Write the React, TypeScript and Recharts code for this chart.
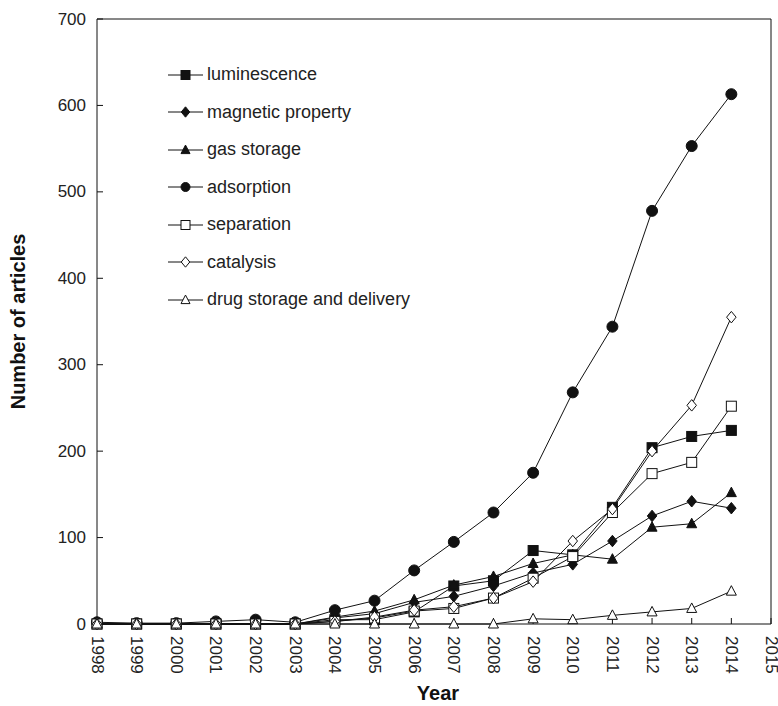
import { LineChart, Line, XAxis, YAxis, ReferenceLine } from 'recharts';

const years = [1998, 1999, 2000, 2001, 2002, 2003, 2004, 2005, 2006, 2007, 2008, 2009, 2010, 2011, 2012, 2013, 2014];
const xTicks = [1998, 1999, 2000, 2001, 2002, 2003, 2004, 2005, 2006, 2007, 2008, 2009, 2010, 2011, 2012, 2013, 2014, 2015];
const yTicks = [0, 100, 200, 300, 400, 500, 600, 700];

const luminescence = [0, 0, 0, 0, 0, 0, 5, 5, 14, 44, 50, 85, 80, 135, 204, 217, 224];
const magneticProperty = [0, 0, 0, 0, 0, 0, 7, 12, 25, 32, 44, 59, 69, 96, 125, 142, 134];
const gasStorage = [0, 0, 0, 0, 0, 0, 8, 15, 28, 45, 55, 70, 80, 75, 112, 116, 152];
const adsorption = [2, 1, 1, 3, 5, 2, 16, 27, 62, 95, 129, 175, 268, 344, 478, 553, 613];
const separation = [0, 0, 0, 0, 0, 0, 3, 7, 15, 18, 30, 53, 78, 129, 174, 187, 252];
const catalysis = [0, 0, 0, 0, 0, 0, 3, 8, 16, 20, 30, 49, 96, 133, 200, 253, 355];
const drugDelivery = [0, 0, 0, 0, 0, 0, 0, 0, 0, 0, 0, 6, 5, 10, 14, 18, 38];

const SERIES = [
  { key: 'lum', name: 'luminescence', values: luminescence, shape: 'square', filled: true },
  { key: 'mag', name: 'magnetic property', values: magneticProperty, shape: 'diamond', filled: true },
  { key: 'gas', name: 'gas storage', values: gasStorage, shape: 'triangle', filled: true },
  { key: 'ads', name: 'adsorption', values: adsorption, shape: 'circle', filled: true },
  { key: 'sep', name: 'separation', values: separation, shape: 'square', filled: false },
  { key: 'cat', name: 'catalysis', values: catalysis, shape: 'diamond', filled: false },
  { key: 'drug', name: 'drug storage and delivery', values: drugDelivery, shape: 'triangle', filled: false },
];

const data = years.map((year, i) => {
  const row: any = { year };
  SERIES.forEach((s) => {
    row[s.key] = s.values[i];
  });
  return row;
});

const INK = '#111';
const FONT = '"Liberation Sans", Arial, sans-serif';

function Marker({ shape, filled, cx, cy, size }: any) {
  const fill = filled ? INK : '#fff';
  const h = size / 2;
  if (shape === 'square') {
    return <rect x={cx - h} y={cy - h} width={size} height={size} fill={fill} stroke={INK} strokeWidth={1} />;
  }
  if (shape === 'circle') {
    return <circle cx={cx} cy={cy} r={h} fill={fill} stroke={INK} strokeWidth={1} />;
  }
  if (shape === 'diamond') {
    return (
      <polygon
        points={`${cx},${cy - h * 1.15} ${cx + h * 0.95},${cy} ${cx},${cy + h * 1.15} ${cx - h * 0.95},${cy}`}
        fill={fill}
        stroke={INK}
        strokeWidth={1}
      />
    );
  }
  return (
    <polygon
      points={`${cx},${cy - h * 1.1} ${cx + h},${cy + h * 0.8} ${cx - h},${cy + h * 0.8}`}
      fill={fill}
      stroke={INK}
      strokeWidth={1}
    />
  );
}

const XTick = ({ x, y, payload }: any) => (
  <text
    x={0}
    y={0}
    transform={`translate(${x},${y}) rotate(90)`}
    textAnchor="start"
    dominantBaseline="central"
    fontSize={17}
    fontFamily={FONT}
    fill="#222"
  >
    {payload.value}
  </text>
);

const YTick = ({ x, y, payload }: any) => (
  <text x={x} y={y} textAnchor="end" dominantBaseline="central" fontSize={17} fontFamily={FONT} fill="#222">
    {payload.value}
  </text>
);

const YTitle = ({ viewBox }: any) => {
  const cx = viewBox.x - 19;
  const cy = viewBox.y + viewBox.height / 2;
  return (
    <text
      x={cx}
      y={cy}
      transform={`rotate(-90, ${cx}, ${cy})`}
      textAnchor="middle"
      dominantBaseline="central"
      fontSize={20}
      fontWeight="bold"
      fontFamily={FONT}
      fill="#111"
    >
      Number of articles
    </text>
  );
};

const XTitle = ({ viewBox }: any) => (
  <text
    x={viewBox.x + viewBox.width / 2 + 4}
    y={viewBox.y + 76}
    textAnchor="middle"
    fontSize={20}
    fontWeight="bold"
    fontFamily={FONT}
    fill="#111"
  >
    Year
  </text>
);

// legend sits inside the plot, top-left, one row per series
const LegendBox = () => (
  <div style={{ position: 'absolute', left: 168, top: 56, fontFamily: FONT, fontSize: 18, color: '#222' }}>
    {SERIES.map((s) => (
      <div key={s.key} style={{ height: 37.5, display: 'flex', alignItems: 'center' }}>
        <svg width={35} height={16} style={{ display: 'block' }}>
          <line x1={0} y1={8} x2={35} y2={8} stroke={INK} strokeWidth={1} />
          <Marker shape={s.shape} filled={s.filled} cx={17.5} cy={8} size={9} />
        </svg>
        <span style={{ marginLeft: 4, whiteSpace: 'nowrap' }}>{s.name}</span>
      </div>
    ))}
  </div>
);

export default function App() {
  return (
    <div style={{ position: 'absolute', left: 0, top: 0, width: 778, height: 706, background: '#fff' }}>
      <LineChart width={778} height={706} data={data} margin={{ top: 19, right: 7, bottom: 22, left: 37 }}>
        <XAxis
          dataKey="year"
          type="number"
          domain={[1998, 2015]}
          ticks={xTicks}
          interval={0}
          height={60}
          tick={<XTick />}
          tickSize={-6}
          tickMargin={18}
          axisLine={{ stroke: INK }}
          tickLine={{ stroke: INK }}
          label={<XTitle />}
        />
        <YAxis
          type="number"
          domain={[0, 700]}
          ticks={yTicks}
          interval={0}
          width={60}
          tick={<YTick />}
          tickSize={-6}
          tickMargin={17}
          axisLine={{ stroke: INK }}
          tickLine={{ stroke: INK }}
          label={<YTitle />}
        />
        <ReferenceLine y={700} stroke={INK} strokeWidth={1} />
        <ReferenceLine x={2015} stroke={INK} strokeWidth={1} />
        {SERIES.map((s) => (
          <Line
            key={s.key}
            dataKey={s.key}
            name={s.name}
            stroke={INK}
            strokeWidth={1}
            isAnimationActive={false}
            dot={(p: any) => (
              <Marker
                key={`${s.key}-${p.index}`}
                shape={s.shape}
                filled={s.filled}
                cx={p.cx}
                cy={p.cy}
                size={s.shape === 'circle' ? 11 : 10}
              />
            )}
            activeDot={false}
          />
        ))}
      </LineChart>
      <LegendBox />
    </div>
  );
}
